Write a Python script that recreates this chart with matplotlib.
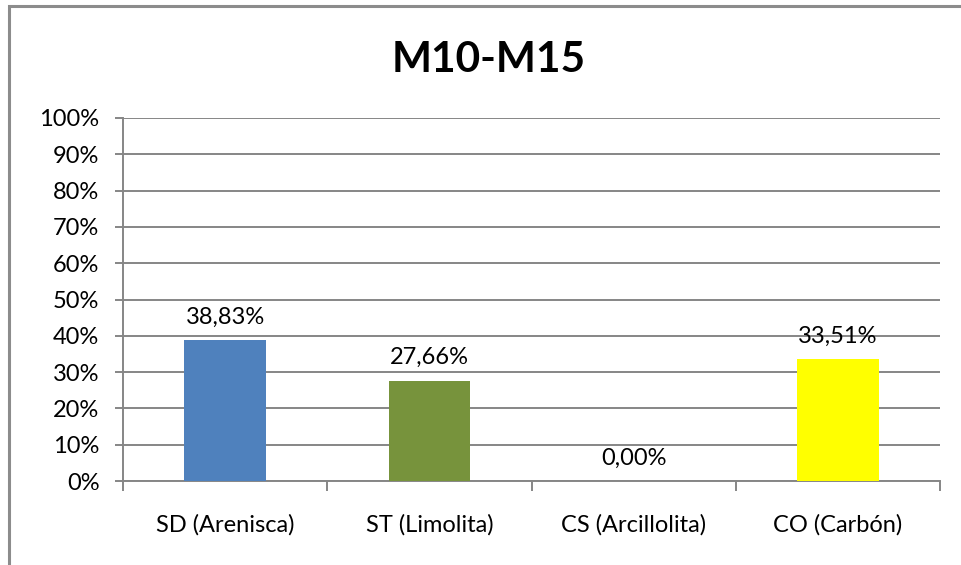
import matplotlib
matplotlib.use("Agg")
import matplotlib.pyplot as plt
from matplotlib.ticker import FuncFormatter, MultipleLocator
from matplotlib.patches import Rectangle

categories = ["SD (Arenisca)", "ST (Limolita)", "CS (Arcillolita)", "CO (Carbón)"]
values = [38.83, 27.66, 0.00, 33.51]
colors = ["#4F81BD", "#77933C", "#9BBB59", "#FFFF00"]
title = "M10-M15"

plt.rcParams["font.family"] = ["Lato", "DejaVu Sans"]
GRID = "#868686"

fig = plt.figure(figsize=(9.61, 5.65), dpi=100)
fig.patches.append(Rectangle((9 / 961, -0.1), 1.2, (565 - 6) / 565 + 0.1,
                             transform=fig.transFigure, fill=False,
                             edgecolor="#8c8c8c", linewidth=2.2))

ax = fig.add_axes([123 / 961, 1 - 481 / 565, (940 - 123) / 961, (481 - 118) / 565])
x = range(len(categories))
ax.bar(x, values, width=0.4, color=colors, zorder=3)

for i, v in enumerate(values):
    ax.annotate(f"{v:.2f}%".replace(".", ","), (i, v), xytext=(0, 9),
                textcoords="offset points", ha="center", va="bottom", fontsize=17)

ax.set_ylim(0, 100)
ax.set_xlim(-0.5, len(categories) - 0.5)
ax.yaxis.set_major_locator(MultipleLocator(10))
ax.yaxis.set_major_formatter(FuncFormatter(lambda v, p: f"{v:.0f}%"))
ax.grid(axis="y", color=GRID, linewidth=1.4, zorder=0)
ax.set_axisbelow(True)

ax.set_xticks([i - 0.5 for i in range(len(categories) + 1)], minor=True)
ax.set_xticks(list(x))
ax.set_xticklabels(categories, fontsize=17)
ax.tick_params(axis="x", which="major", length=0, pad=24)
ax.tick_params(axis="x", which="minor", length=7, width=1.4, color=GRID)
ax.tick_params(axis="y", length=6, width=1.4, color=GRID, labelsize=17, pad=11)

for s in ["top", "right"]:
    ax.spines[s].set_visible(False)
for s in ["left", "bottom"]:
    ax.spines[s].set_color(GRID)
    ax.spines[s].set_linewidth(1.4)

fig.text(489 / 961, 1 - 60 / 565, title, ha="center", va="center",
         fontsize=30.5, fontweight="bold")

fig.savefig("out.png", dpi=100)
